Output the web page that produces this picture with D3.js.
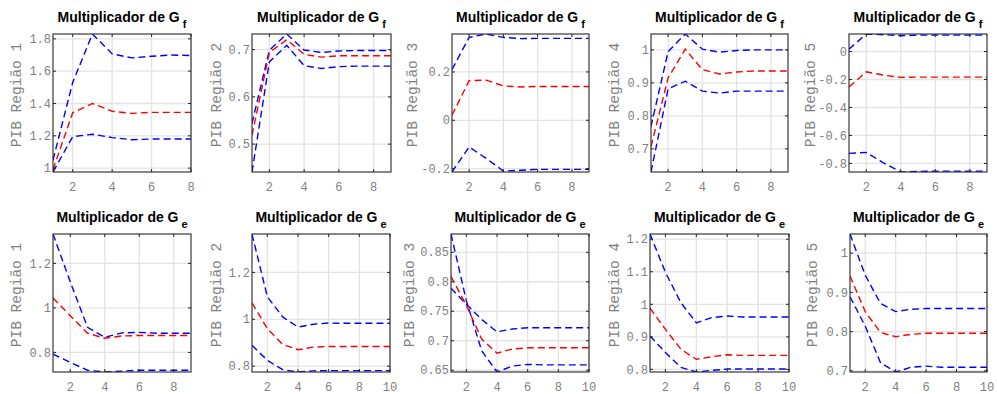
<!DOCTYPE html>
<html>
<head>
<meta charset="utf-8">
<script src="https://cdn.jsdelivr.net/npm/d3@7"></script>
<style>
  body { margin: 0; background: #fff; }
</style>
</head>
<body>
<div id="chart"></div>
<script>
// multiplicadores regionais - bandas e mediana

const regionLabels = ["PIB Região 1", "PIB Região 2", "PIB Região 3", "PIB Região 4", "PIB Região 5"];
const shockSubs = ["f", "e"];

// choque G_f (linha de cima)
const gfUpper = [
  [1.05, 1.53, 1.83, 1.707, 1.682, 1.692, 1.70, 1.697],
  [0.544, 0.699, 0.733, 0.699, 0.694, 0.697, 0.698, 0.698, 0.698],
  [0.21, 0.343, 0.357, 0.343, 0.338, 0.339, 0.339, 0.339, 0.339],
  [0.768, 0.995, 1.048, 1.002, 0.993, 0.998, 1.0, 1.0, 1.0],
  [0.017, 0.125, 0.12, 0.113, 0.117, 0.117, 0.117, 0.117, 0.117]
];
const gfMid = [
  [0.99, 1.343, 1.40, 1.352, 1.339, 1.345, 1.345, 1.345],
  [0.519, 0.694, 0.721, 0.69, 0.684, 0.687, 0.687, 0.687, 0.687],
  [0.021, 0.164, 0.166, 0.142, 0.138, 0.14, 0.14, 0.14, 0.14],
  [0.707, 0.915, 1.002, 0.94, 0.927, 0.933, 0.936, 0.936, 0.936],
  [-0.253, -0.145, -0.169, -0.185, -0.183, -0.183, -0.183, -0.183, -0.183]
];
const gfLower = [
  [0.976, 1.195, 1.21, 1.189, 1.176, 1.18, 1.18, 1.18],
  [0.441, 0.674, 0.709, 0.666, 0.66, 0.664, 0.665, 0.665, 0.665],
  [-0.214, -0.11, -0.158, -0.21, -0.207, -0.203, -0.203, -0.203, -0.203],
  [0.63, 0.882, 0.905, 0.875, 0.869, 0.875, 0.875, 0.875, 0.875],
  [-0.728, -0.721, -0.796, -0.861, -0.857, -0.855, -0.855, -0.855, -0.855]
];

// choque G_e (linha de baixo)
const geUpper = [
  [1.332, 1.117, 0.913, 0.868, 0.888, 0.89, 0.886, 0.886, 0.886],
  [1.364, 1.096, 1.01, 0.967, 0.979, 0.984, 0.983, 0.983, 0.983, 0.983],
  [0.881, 0.768, 0.683, 0.647, 0.657, 0.66, 0.659, 0.659, 0.659, 0.659],
  [1.216, 1.098, 1.005, 0.943, 0.959, 0.964, 0.961, 0.961, 0.961, 0.961],
  [1.049, 0.944, 0.872, 0.851, 0.857, 0.859, 0.859, 0.859, 0.859, 0.859]
];
const geMid = [
  [1.045, 0.965, 0.886, 0.864, 0.874, 0.876, 0.876, 0.876, 0.876],
  [1.07, 0.96, 0.893, 0.87, 0.881, 0.884, 0.884, 0.884, 0.884, 0.884],
  [0.809, 0.76, 0.703, 0.679, 0.686, 0.688, 0.688, 0.688, 0.688, 0.688],
  [0.988, 0.923, 0.862, 0.831, 0.839, 0.845, 0.843, 0.843, 0.843, 0.843],
  [0.942, 0.851, 0.798, 0.787, 0.793, 0.796, 0.796, 0.796, 0.796, 0.796]
];
const geLower = [
  [0.792, 0.755, 0.72, 0.712, 0.716, 0.72, 0.72, 0.72, 0.72],
  [0.889, 0.825, 0.785, 0.775, 0.78, 0.781, 0.781, 0.781, 0.781, 0.781],
  [0.789, 0.762, 0.736, 0.715, 0.72, 0.722, 0.722, 0.722, 0.722, 0.722],
  [0.903, 0.852, 0.806, 0.792, 0.797, 0.801, 0.801, 0.801, 0.801, 0.801],
  [0.889, 0.814, 0.721, 0.697, 0.709, 0.712, 0.709, 0.709, 0.709, 0.709]
];

const yTicksGf = [
  [1, 1.2, 1.4, 1.6, 1.8],
  [0.5, 0.6, 0.7],
  [-0.2, 0, 0.2],
  [0.7, 0.8, 0.9, 1],
  [-0.8, -0.6, -0.4, -0.2, 0]
];
const yTicksGe = [
  [0.8, 1, 1.2],
  [0.8, 1, 1.2],
  [0.65, 0.7, 0.75, 0.8, 0.85],
  [0.8, 0.9, 1, 1.1, 1.2],
  [0.7, 0.8, 0.9, 1]
];
const xTicksAll = [2, 4, 6, 8, 10];

// layout (pixel boxes of each axes, like matlab subplot positions)
const W = 997, H = 394;
const rowsLayout = [
  { top: 34, bottom: 172, lefts: [53, 252, 452, 651, 849], rights: [191, 391, 589, 788, 987], lab: [37.5, 36, 40.5, 37.5, 39.5] },
  { top: 234, bottom: 372, lefts: [53, 252, 451, 650, 850], rights: [191, 390, 589, 789, 987], lab: [37, 36, 42, 36, 38] }
];

const svg = d3.select("#chart").append("svg")
  .attr("width", W)
  .attr("height", H)
  .style("font-family", "'Liberation Mono', 'Courier New', monospace");

const defs = svg.append("defs");
const monoFont = "'Liberation Mono', 'Courier New', monospace";
const tickColor = "#808080";

function drawPanel(row, col, upper, mid, lower, yTicks) {
  const lay = rowsLayout[row];
  const x0 = lay.lefts[col], x1 = lay.rights[col];
  const y0 = lay.top, y1 = lay.bottom;
  const n = upper.length;

  const all = upper.concat(mid, lower);
  const x = d3.scaleLinear().domain([1, n]).range([x0, x1]);
  const y = d3.scaleLinear().domain(d3.extent(all)).range([y1, y0]);
  const xTicks = xTicksAll.filter(t => t <= n);

  const g = svg.append("g");
  const clipId = "clip-" + row + "-" + col;
  defs.append("clipPath").attr("id", clipId)
    .append("rect")
    .attr("x", x0).attr("y", y0)
    .attr("width", x1 - x0).attr("height", y1 - y0);

  // grid
  g.append("g").selectAll("line.gx")
    .data(xTicks).enter().append("line")
    .attr("x1", d => x(d)).attr("x2", d => x(d))
    .attr("y1", y0).attr("y2", y1)
    .attr("stroke", "#e3e3e3").attr("stroke-width", 1.3);
  g.append("g").selectAll("line.gy")
    .data(yTicks).enter().append("line")
    .attr("x1", x0).attr("x2", x1)
    .attr("y1", d => y(d)).attr("y2", d => y(d))
    .attr("stroke", "#e3e3e3").attr("stroke-width", 1.3);

  // series
  const line = d3.line()
    .x((d, i) => x(i + 1))
    .y(d => y(d));
  const series = [
    { vals: upper, color: "#0000ff" },
    { vals: lower, color: "#0000ff" },
    { vals: mid, color: "#ff0000" }
  ];
  g.append("g").attr("clip-path", "url(#" + clipId + ")")
    .selectAll("path")
    .data(series).enter().append("path")
    .attr("d", d => line(d.vals))
    .attr("fill", "none")
    .attr("stroke", d => d.color)
    .attr("stroke-width", 1.4)
    .attr("stroke-dasharray", "7,4");

  // box
  g.append("rect")
    .attr("x", x0).attr("y", y0)
    .attr("width", x1 - x0).attr("height", y1 - y0)
    .attr("fill", "none")
    .attr("stroke", "#262626")
    .attr("stroke-width", 1.1);

  // inward ticks on all sides
  const tl = 3;
  xTicks.forEach(t => {
    g.append("line").attr("x1", x(t)).attr("x2", x(t)).attr("y1", y1).attr("y2", y1 - tl)
      .attr("stroke", "#262626");
    g.append("line").attr("x1", x(t)).attr("x2", x(t)).attr("y1", y0).attr("y2", y0 + tl)
      .attr("stroke", "#262626");
  });
  yTicks.forEach(t => {
    g.append("line").attr("x1", x0).attr("x2", x0 + tl).attr("y1", y(t)).attr("y2", y(t))
      .attr("stroke", "#262626");
    g.append("line").attr("x1", x1).attr("x2", x1 - tl).attr("y1", y(t)).attr("y2", y(t))
      .attr("stroke", "#262626");
  });

  // tick labels
  g.append("g").selectAll("text")
    .data(xTicks).enter().append("text")
    .attr("x", d => x(d))
    .attr("y", y1 + 15)
    .attr("dy", "0.35em")
    .attr("text-anchor", "middle")
    .attr("font-family", monoFont)
    .attr("font-size", 12)
    .attr("fill", tickColor)
    .text(d => String(d));
  g.append("g").selectAll("text")
    .data(yTicks).enter().append("text")
    .attr("x", x0 - 2)
    .attr("y", d => y(d))
    .attr("dy", "0.35em")
    .attr("text-anchor", "end")
    .attr("font-family", monoFont)
    .attr("font-size", 12)
    .attr("fill", tickColor)
    .text(d => String(d));

  // y label
  const lx = x0 - lay.lab[col], ly = (y0 + y1) / 2 - 8;
  g.append("text")
    .attr("transform", "translate(" + lx + "," + ly + ") rotate(-90)")
    .attr("dy", "0.35em")
    .attr("text-anchor", "middle")
    .attr("font-family", monoFont)
    .attr("font-size", 14.5)
    .attr("fill", tickColor)
    .text(regionLabels[col]);

  // title with subscript
  const title = g.append("text")
    .attr("x", (x0 + x1) / 2)
    .attr("y", y0 - 12)
    .attr("text-anchor", "middle")
    .attr("font-family", "'Liberation Sans', Arial, sans-serif")
    .attr("font-weight", "bold")
    .attr("font-size", 14)
    .attr("fill", "#000");
  title.append("tspan").text("Multiplicador de G");
  title.append("tspan")
    .attr("dx", 3)
    .attr("dy", 5.5)
    .attr("font-size", 11)
    .text(shockSubs[row]);
}

for (let c = 0; c < 5; c++) {
  drawPanel(0, c, gfUpper[c], gfMid[c], gfLower[c], yTicksGf[c]);
  drawPanel(1, c, geUpper[c], geMid[c], geLower[c], yTicksGe[c]);
}
</script>
</body>
</html>
